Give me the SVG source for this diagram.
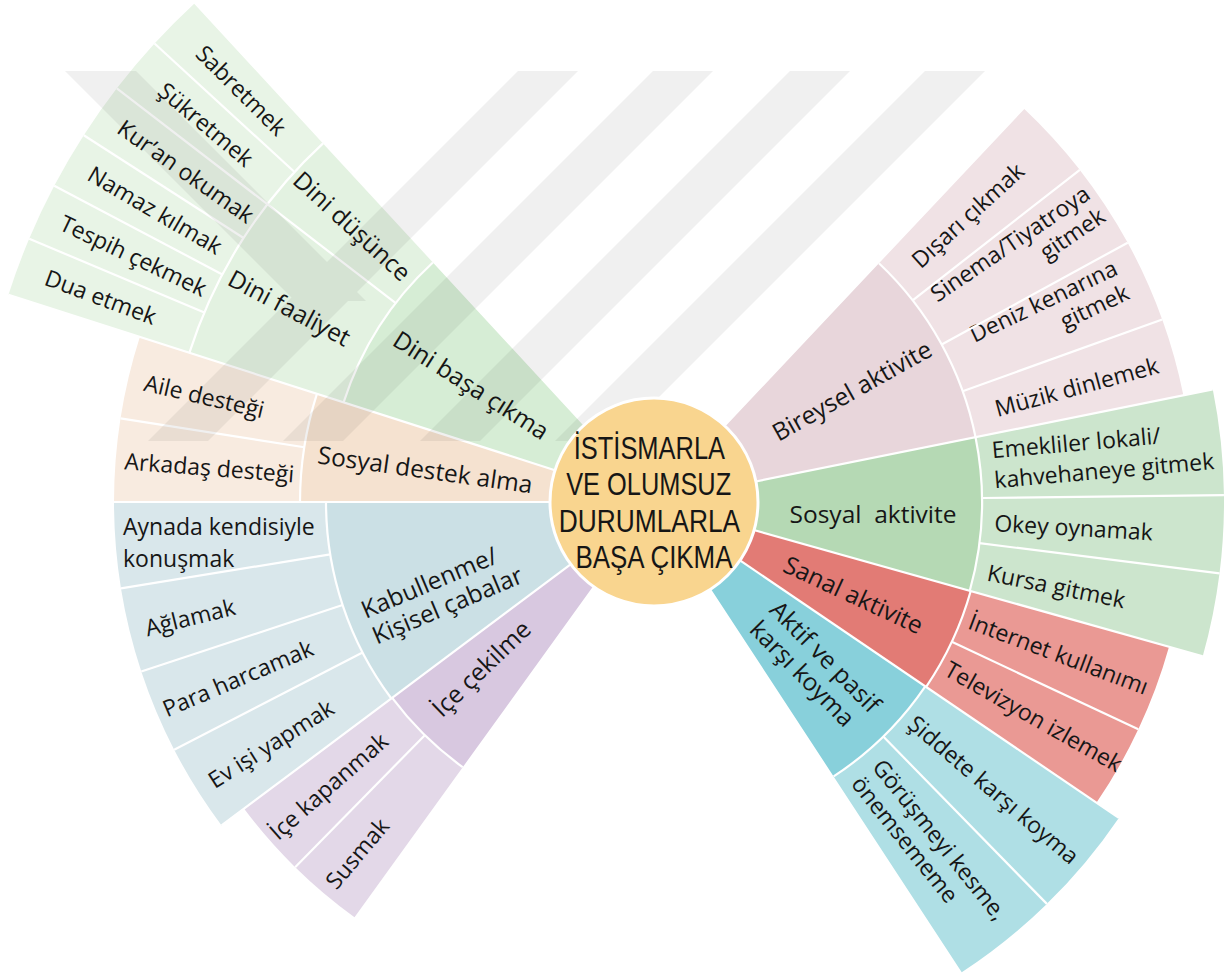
<svg xmlns="http://www.w3.org/2000/svg" width="1226" height="978" viewBox="0 0 1226 978">
<defs>
<style>
.t{font-family:"Open Sans","Noto Sans","Liberation Sans",sans-serif;font-size:23px;fill:#161616}
.m{font-size:24.5px}
.c{font-family:"Liberation Sans",Arial,sans-serif;font-size:31px}
.sec{fill:none}
.sep line,.sep circle{stroke:#fff;stroke-width:2.2;fill:none}
</style>
<clipPath id="wmclip"><rect x="55" y="71" width="940" height="370"/></clipPath>
</defs>
<rect width="1226" height="978" fill="#fff"/>

<!-- LEFT: Dini başa çıkma -->
<g id="dini-basa-cikma">
<circle class="sec" cx="654" cy="502" r="213" stroke="#d6edd5" stroke-width="226" pathLength="360" stroke-dasharray="29.5 360" transform="rotate(-162.2 654 502)"/>
<text class="t m" text-anchor="middle" dy="0.35em" transform="translate(654 502) rotate(-147.5) translate(217 0) rotate(180)">Dini başa çıkma</text>
</g>
<g id="dini-dusunce">
<circle class="sec" cx="654" cy="502" r="407" stroke="#e3f2e1" stroke-width="162" pathLength="360" stroke-dasharray="9.7 360" transform="rotate(-142.4 654 502)"/>
<text class="t m" text-anchor="middle" dy="0.35em" transform="translate(654 502) rotate(-137.6) translate(409 0) rotate(180)">Dini düşünce</text>
</g>
<g id="dini-faaliyet">
<circle class="sec" cx="654" cy="502" r="407" stroke="#e3f2e1" stroke-width="162" pathLength="360" stroke-dasharray="19.8 360" transform="rotate(-162.2 654 502)"/>
<text class="t m" text-anchor="middle" dy="0.35em" transform="translate(654 502) rotate(-152) translate(413 0) rotate(180)">Dini faaliyet</text>
</g>
<g id="sabretmek">
<circle class="sec" cx="654" cy="502" r="583" stroke="#e8f4e6" stroke-width="190" pathLength="360" stroke-dasharray="4.75 360" transform="rotate(-137.45 654 502)"/>
<text class="t" text-anchor="middle" dy="0.35em" transform="translate(654 502) rotate(-135.1) translate(583 0) rotate(180)">Sabretmek</text>
</g>
<g id="sukretmek">
<circle class="sec" cx="654" cy="502" r="583" stroke="#e8f4e6" stroke-width="190" pathLength="360" stroke-dasharray="4.95 360" transform="rotate(-142.4 654 502)"/>
<text class="t" text-anchor="middle" dy="0.35em" transform="translate(654 502) rotate(-139.9) translate(586 0) rotate(180)">Şükretmek</text>
</g>
<g id="kuran-okumak">
<circle class="sec" cx="654" cy="502" r="583" stroke="#e8f4e6" stroke-width="190" pathLength="360" stroke-dasharray="4.85 360" transform="rotate(-147.25 654 502)"/>
<text class="t" text-anchor="middle" dy="0.35em" transform="translate(654 502) rotate(-144.8) translate(573 0) rotate(180)">Kur’an okumak</text>
</g>
<g id="namaz-kilmak">
<circle class="sec" cx="654" cy="502" r="583" stroke="#e8f4e6" stroke-width="190" pathLength="360" stroke-dasharray="4.95 360" transform="rotate(-152.2 654 502)"/>
<text class="t" text-anchor="middle" dy="0.35em" transform="translate(654 502) rotate(-149.7) translate(578 0) rotate(180)">Namaz kılmak</text>
</g>
<g id="tespih-cekmek">
<circle class="sec" cx="654" cy="502" r="583" stroke="#e8f4e6" stroke-width="190" pathLength="360" stroke-dasharray="4.95 360" transform="rotate(-157.15 654 502)"/>
<text class="t" text-anchor="middle" dy="0.35em" transform="translate(654 502) rotate(-154.7) translate(576 0) rotate(180)">Tespih çekmek</text>
</g>
<g id="dua-etmek">
<circle class="sec" cx="654" cy="502" r="583" stroke="#e8f4e6" stroke-width="190" pathLength="360" stroke-dasharray="5.05 360" transform="rotate(-162.2 654 502)"/>
<text class="t" text-anchor="middle" dy="0.35em" transform="translate(654 502) rotate(-159.7) translate(590 0) rotate(180)">Dua etmek</text>
</g>

<!-- LEFT: Sosyal destek alma -->
<g id="sosyal-destek-alma">
<circle class="sec" cx="654" cy="502" r="227" stroke="#f5e2d0" stroke-width="254" pathLength="360" stroke-dasharray="17.8 360" transform="rotate(-180 654 502)"/>
<text class="t m" text-anchor="middle" dy="0.35em" transform="translate(654 502) rotate(-172) translate(231 0) rotate(180)">Sosyal destek alma</text>
</g>
<g id="aile-destegi">
<circle class="sec" cx="654" cy="502" r="447" stroke="#f8ebe0" stroke-width="186" pathLength="360" stroke-dasharray="8.9 360" transform="rotate(-171.1 654 502)"/>
<text class="t" text-anchor="middle" dy="0.35em" transform="translate(654 502) rotate(-166.8) translate(462 0) rotate(180)">Aile desteği</text>
</g>
<g id="arkadas-destegi">
<circle class="sec" cx="654" cy="502" r="447" stroke="#f8ebe0" stroke-width="186" pathLength="360" stroke-dasharray="8.9 360" transform="rotate(-180 654 502)"/>
<text class="t" text-anchor="middle" dy="0.35em" transform="translate(654 502) rotate(-175.6) translate(446 0) rotate(180)">Arkadaş desteği</text>
</g>

<!-- LEFT: Kabullenme -->
<g id="kabullenme">
<circle class="sec" cx="654" cy="502" r="214" stroke="#cbe0e5" stroke-width="228" pathLength="360" stroke-dasharray="36.8 360" transform="rotate(-216.8 654 502)"/>
<text class="t m" transform="translate(654 502) rotate(-203) translate(229 0) rotate(180)"><tspan x="-82" y="-5">Kabullenme/</tspan><tspan x="-82" y="23">Kişisel çabalar</tspan></text>
</g>
<g id="aynada">
<circle class="sec" cx="654" cy="502" r="434" stroke="#d9e7eb" stroke-width="212" pathLength="360" stroke-dasharray="9.2 360" transform="rotate(-189.2 654 502)"/>
<text class="t"><tspan x="123" y="535">Aynada kendisiyle</tspan><tspan x="123" y="566.5">konuşmak</tspan></text>
</g>
<g id="aglamak">
<circle class="sec" cx="654" cy="502" r="434" stroke="#d9e7eb" stroke-width="212" pathLength="360" stroke-dasharray="9.1 360" transform="rotate(-198.3 654 502)"/>
<text class="t" text-anchor="middle" dy="0.35em" transform="translate(654 502) rotate(-194) translate(478 0) rotate(180)">Ağlamak</text>
</g>
<g id="para-harcamak">
<circle class="sec" cx="654" cy="502" r="434" stroke="#d9e7eb" stroke-width="212" pathLength="360" stroke-dasharray="9 360" transform="rotate(-207.3 654 502)"/>
<text class="t" text-anchor="middle" dy="0.35em" transform="translate(654 502) rotate(-203) translate(452 0) rotate(180)">Para harcamak</text>
</g>
<g id="ev-isi">
<circle class="sec" cx="654" cy="502" r="434" stroke="#d9e7eb" stroke-width="212" pathLength="360" stroke-dasharray="9.5 360" transform="rotate(-216.8 654 502)"/>
<text class="t" text-anchor="middle" dy="0.35em" transform="translate(654 502) rotate(-212.3) translate(453 0) rotate(180)">Ev işi yapmak</text>
</g>

<!-- LEFT: İçe çekilme -->
<g id="ice-cekilme">
<circle class="sec" cx="654" cy="502" r="213.5" stroke="#d8c8e0" stroke-width="227" pathLength="360" stroke-dasharray="17.4 360" transform="rotate(-234.2 654 502)"/>
<text class="t m" text-anchor="middle" dy="0.35em" transform="translate(654 502) rotate(-224) translate(240 0) rotate(180)">İçe çekilme</text>
</g>
<g id="ice-kapanmak">
<circle class="sec" cx="654" cy="502" r="419.5" stroke="#e3d8e8" stroke-width="185" pathLength="360" stroke-dasharray="8.7 360" transform="rotate(-225.5 654 502)"/>
<text class="t" text-anchor="middle" dy="0.35em" transform="translate(654 502) rotate(-221.15) translate(432 0) rotate(180)">İçe kapanmak</text>
</g>
<g id="susmak">
<circle class="sec" cx="654" cy="502" r="419.5" stroke="#e3d8e8" stroke-width="185" pathLength="360" stroke-dasharray="8.7 360" transform="rotate(-234.2 654 502)"/>
<text class="t" text-anchor="middle" dy="0.35em" transform="translate(654 502) rotate(-229.85) translate(460 0) rotate(180)">Susmak</text>
</g>

<!-- RIGHT: Bireysel aktivite -->
<g id="bireysel-aktivite">
<circle class="sec" cx="654" cy="502" r="214" stroke="#e8d6db" stroke-width="228" pathLength="360" stroke-dasharray="35.3 360" transform="rotate(-46.7 654 502)"/>
<text class="t m" text-anchor="middle" dy="0.35em" transform="translate(654 502) rotate(-29.3) translate(227 0)">Bireysel aktivite</text>
</g>
<g id="disari-cikmak">
<circle class="sec" cx="654" cy="502" r="434" stroke="#f0e2e5" stroke-width="212" pathLength="360" stroke-dasharray="8.75 360" transform="rotate(-46.7 654 502)"/>
<text class="t" text-anchor="middle" dy="0.35em" transform="translate(654 502) rotate(-42.4) translate(425 0)">Dışarı çıkmak</text>
</g>
<g id="sinema">
<circle class="sec" cx="654" cy="502" r="434" stroke="#f0e2e5" stroke-width="212" pathLength="360" stroke-dasharray="9.25 360" transform="rotate(-37.95 654 502)"/>
<text class="t" text-anchor="end" transform="translate(654 502) rotate(-34.2)"><tspan x="533" y="-5.5">Sinema/Tiyatroya</tspan><tspan x="533" y="21.5">gitmek</tspan></text>
</g>
<g id="deniz">
<circle class="sec" cx="654" cy="502" r="434" stroke="#f0e2e5" stroke-width="212" pathLength="360" stroke-dasharray="8.95 360" transform="rotate(-28.7 654 502)"/>
<text class="t" text-anchor="end" transform="translate(654 502) rotate(-25.5)"><tspan x="518" y="-5.5">Deniz kenarına</tspan><tspan x="518" y="21.5">gitmek</tspan></text>
</g>
<g id="muzik">
<circle class="sec" cx="654" cy="502" r="434" stroke="#f0e2e5" stroke-width="212" pathLength="360" stroke-dasharray="8.35 360" transform="rotate(-19.75 654 502)"/>
<text class="t" text-anchor="middle" dy="0.35em" transform="translate(654 502) rotate(-15.2) translate(438 0)">Müzik dinlemek</text>
</g>

<!-- RIGHT: Sosyal aktivite -->
<g id="sosyal-aktivite">
<circle class="sec" cx="654" cy="502" r="214" stroke="#b5d9b4" stroke-width="228" pathLength="360" stroke-dasharray="27.1 360" transform="rotate(-11.4 654 502)"/>
<text class="t m" text-anchor="middle" x="873" y="523" style="white-space:pre">Sosyal  aktivite</text>
</g>
<g id="emekliler">
<circle class="sec" cx="654" cy="502" r="449" stroke="#cce5cd" stroke-width="242" pathLength="360" stroke-dasharray="10.7 360" transform="rotate(-11.4 654 502)"/>
<text class="t" transform="translate(654 502) rotate(-5)"><tspan x="341" y="-14">Emekliler lokali/</tspan><tspan x="341" y="16">kahvehaneye gitmek</tspan></text>
</g>
<g id="okey">
<circle class="sec" cx="654" cy="502" r="449" stroke="#cce5cd" stroke-width="242" pathLength="360" stroke-dasharray="7.9 360" transform="rotate(-0.7 654 502)"/>
<text class="t" x="341" y="10" transform="translate(654 502) rotate(3.25)">Okey oynamak</text>
</g>
<g id="kursa">
<circle class="sec" cx="654" cy="502" r="449" stroke="#cce5cd" stroke-width="242" pathLength="360" stroke-dasharray="8.5 360" transform="rotate(7.2 654 502)"/>
<text class="t" x="341" y="11" transform="translate(654 502) rotate(11.45)">Kursa gitmek</text>
</g>

<!-- RIGHT: Sanal aktivite -->
<g id="sanal-aktivite">
<circle class="sec" cx="654" cy="502" r="214.5" stroke="#e27b75" stroke-width="229" pathLength="360" stroke-dasharray="18.5 360" transform="rotate(15.7 654 502)"/>
<text class="t m" text-anchor="middle" dy="0.35em" transform="translate(654 502) rotate(25) translate(220 0)">Sanal aktivite</text>
</g>
<g id="internet">
<circle class="sec" cx="654" cy="502" r="432" stroke="#ea9994" stroke-width="206" pathLength="360" stroke-dasharray="9.45 360" transform="rotate(15.7 654 502)"/>
<text class="t" text-anchor="middle" dy="0.35em" transform="translate(654 502) rotate(20.6) translate(432 0)">İnternet kullanımı</text>
</g>
<g id="televizyon">
<circle class="sec" cx="654" cy="502" r="432" stroke="#ea9994" stroke-width="206" pathLength="360" stroke-dasharray="9.05 360" transform="rotate(25.15 654 502)"/>
<text class="t" text-anchor="middle" dy="0.35em" transform="translate(654 502) rotate(29.5) translate(436 0)">Televizyon izlemek</text>
</g>

<!-- RIGHT: Aktif ve pasif karşı koyma -->
<g id="aktif-pasif">
<circle class="sec" cx="654" cy="502" r="214" stroke="#88d0db" stroke-width="228" pathLength="360" stroke-dasharray="22.6 360" transform="rotate(34.2 654 502)"/>
<text class="t m" transform="translate(654 502) rotate(45.5)"><tspan x="158" y="-5">Aktif ve pasif</tspan><tspan x="158" y="23">karşı koyma</tspan></text>
</g>
<g id="siddete">
<circle class="sec" cx="654" cy="502" r="445" stroke="#afdfe5" stroke-width="234" pathLength="360" stroke-dasharray="11.45 360" transform="rotate(34.2 654 502)"/>
<text class="t" text-anchor="middle" dy="0.35em" transform="translate(654 502) rotate(40.3) translate(445 0)">Şiddete karşı koyma</text>
</g>
<g id="gorusmeyi">
<circle class="sec" cx="654" cy="502" r="445" stroke="#afdfe5" stroke-width="234" pathLength="360" stroke-dasharray="11.15 360" transform="rotate(45.65 654 502)"/>
<text class="t" transform="translate(654 502) rotate(51.2)"><tspan x="343" y="-3">Görüşmeyi kesme,</tspan><tspan x="343" y="24">önemsememe</tspan></text>
</g>

<!-- separators -->
<g id="separators" class="sep">
<g transform="translate(654 502)">
<line x1="100" x2="570" transform="rotate(-11.4)"/>
<line x1="100" x2="570" transform="rotate(15.7)"/>
<line x1="100" x2="562" transform="rotate(34.2)"/>
<line x1="100" x2="678" transform="rotate(-162.2)"/>
<line x1="100" x2="540" transform="rotate(-180)"/>
<line x1="100" x2="540" transform="rotate(-216.8)"/>
<line x1="328" x2="540" transform="rotate(-37.95)"/>
<line x1="328" x2="540" transform="rotate(-28.7)"/>
<line x1="328" x2="540" transform="rotate(-19.75)"/>
<line x1="328" x2="570" transform="rotate(-0.7)"/>
<line x1="328" x2="570" transform="rotate(7.2)"/>
<line x1="329" x2="535" transform="rotate(25.15)"/>
<line x1="328" x2="562" transform="rotate(45.65)"/>
<line x1="326" x2="678" transform="rotate(-142.4)"/>
<line x1="488" x2="678" transform="rotate(-137.45)"/>
<line x1="488" x2="678" transform="rotate(-147.25)"/>
<line x1="488" x2="678" transform="rotate(-152.2)"/>
<line x1="488" x2="678" transform="rotate(-157.15)"/>
<line x1="354" x2="540" transform="rotate(-171.1)"/>
<line x1="328" x2="540" transform="rotate(-189.2)"/>
<line x1="328" x2="540" transform="rotate(-198.3)"/>
<line x1="328" x2="540" transform="rotate(-207.3)"/>
<line x1="327" x2="512" transform="rotate(-225.5)"/>
</g>
<circle cx="654" cy="502" r="328" pathLength="360" stroke-dasharray="35.3 360" transform="rotate(-46.7 654 502)"/>
<circle cx="654" cy="502" r="328" pathLength="360" stroke-dasharray="27.1 360" transform="rotate(-11.4 654 502)"/>
<circle cx="654" cy="502" r="329" pathLength="360" stroke-dasharray="18.5 360" transform="rotate(15.7 654 502)"/>
<circle cx="654" cy="502" r="328" pathLength="360" stroke-dasharray="22.6 360" transform="rotate(34.2 654 502)"/>
<circle cx="654" cy="502" r="326" pathLength="360" stroke-dasharray="29.5 360" transform="rotate(-162.2 654 502)"/>
<circle cx="654" cy="502" r="488" pathLength="360" stroke-dasharray="29.5 360" transform="rotate(-162.2 654 502)"/>
<circle cx="654" cy="502" r="354" pathLength="360" stroke-dasharray="17.8 360" transform="rotate(-180 654 502)"/>
<circle cx="654" cy="502" r="328" pathLength="360" stroke-dasharray="36.8 360" transform="rotate(-216.8 654 502)"/>
<circle cx="654" cy="502" r="327" pathLength="360" stroke-dasharray="17.4 360" transform="rotate(-234.2 654 502)"/>
</g>

<!-- faint background watermark -->
<g id="watermark" clip-path="url(#wmclip)" opacity="0.055" fill="#000">
<polygon points="518,71 578,71 178,471 118,471"/>
<polygon points="653,71 713,71 313,471 253,471"/>
<polygon points="790,71 850,71 450,471 390,471"/>
<polygon points="925,71 985,71 585,471 525,471"/>
<polygon points="65,71 136,71 366,301 295,301"/>
</g>

<!-- centre -->
<g id="center">
<circle cx="654" cy="502" r="104" fill="#f9d58f" stroke="#fff" stroke-width="3"/>
<text class="t c" text-anchor="middle">
<tspan x="653" y="459" textLength="150" lengthAdjust="spacingAndGlyphs">İSTİSMARLA</tspan>
<tspan x="653" y="495" textLength="165" lengthAdjust="spacingAndGlyphs">VE OLUMSUZ</tspan>
<tspan x="653" y="532" textLength="180" lengthAdjust="spacingAndGlyphs">DURUMLARLA</tspan>
<tspan x="654" y="568" textLength="157" lengthAdjust="spacingAndGlyphs">BAŞA ÇIKMA</tspan>
</text>
</g>
</svg>
